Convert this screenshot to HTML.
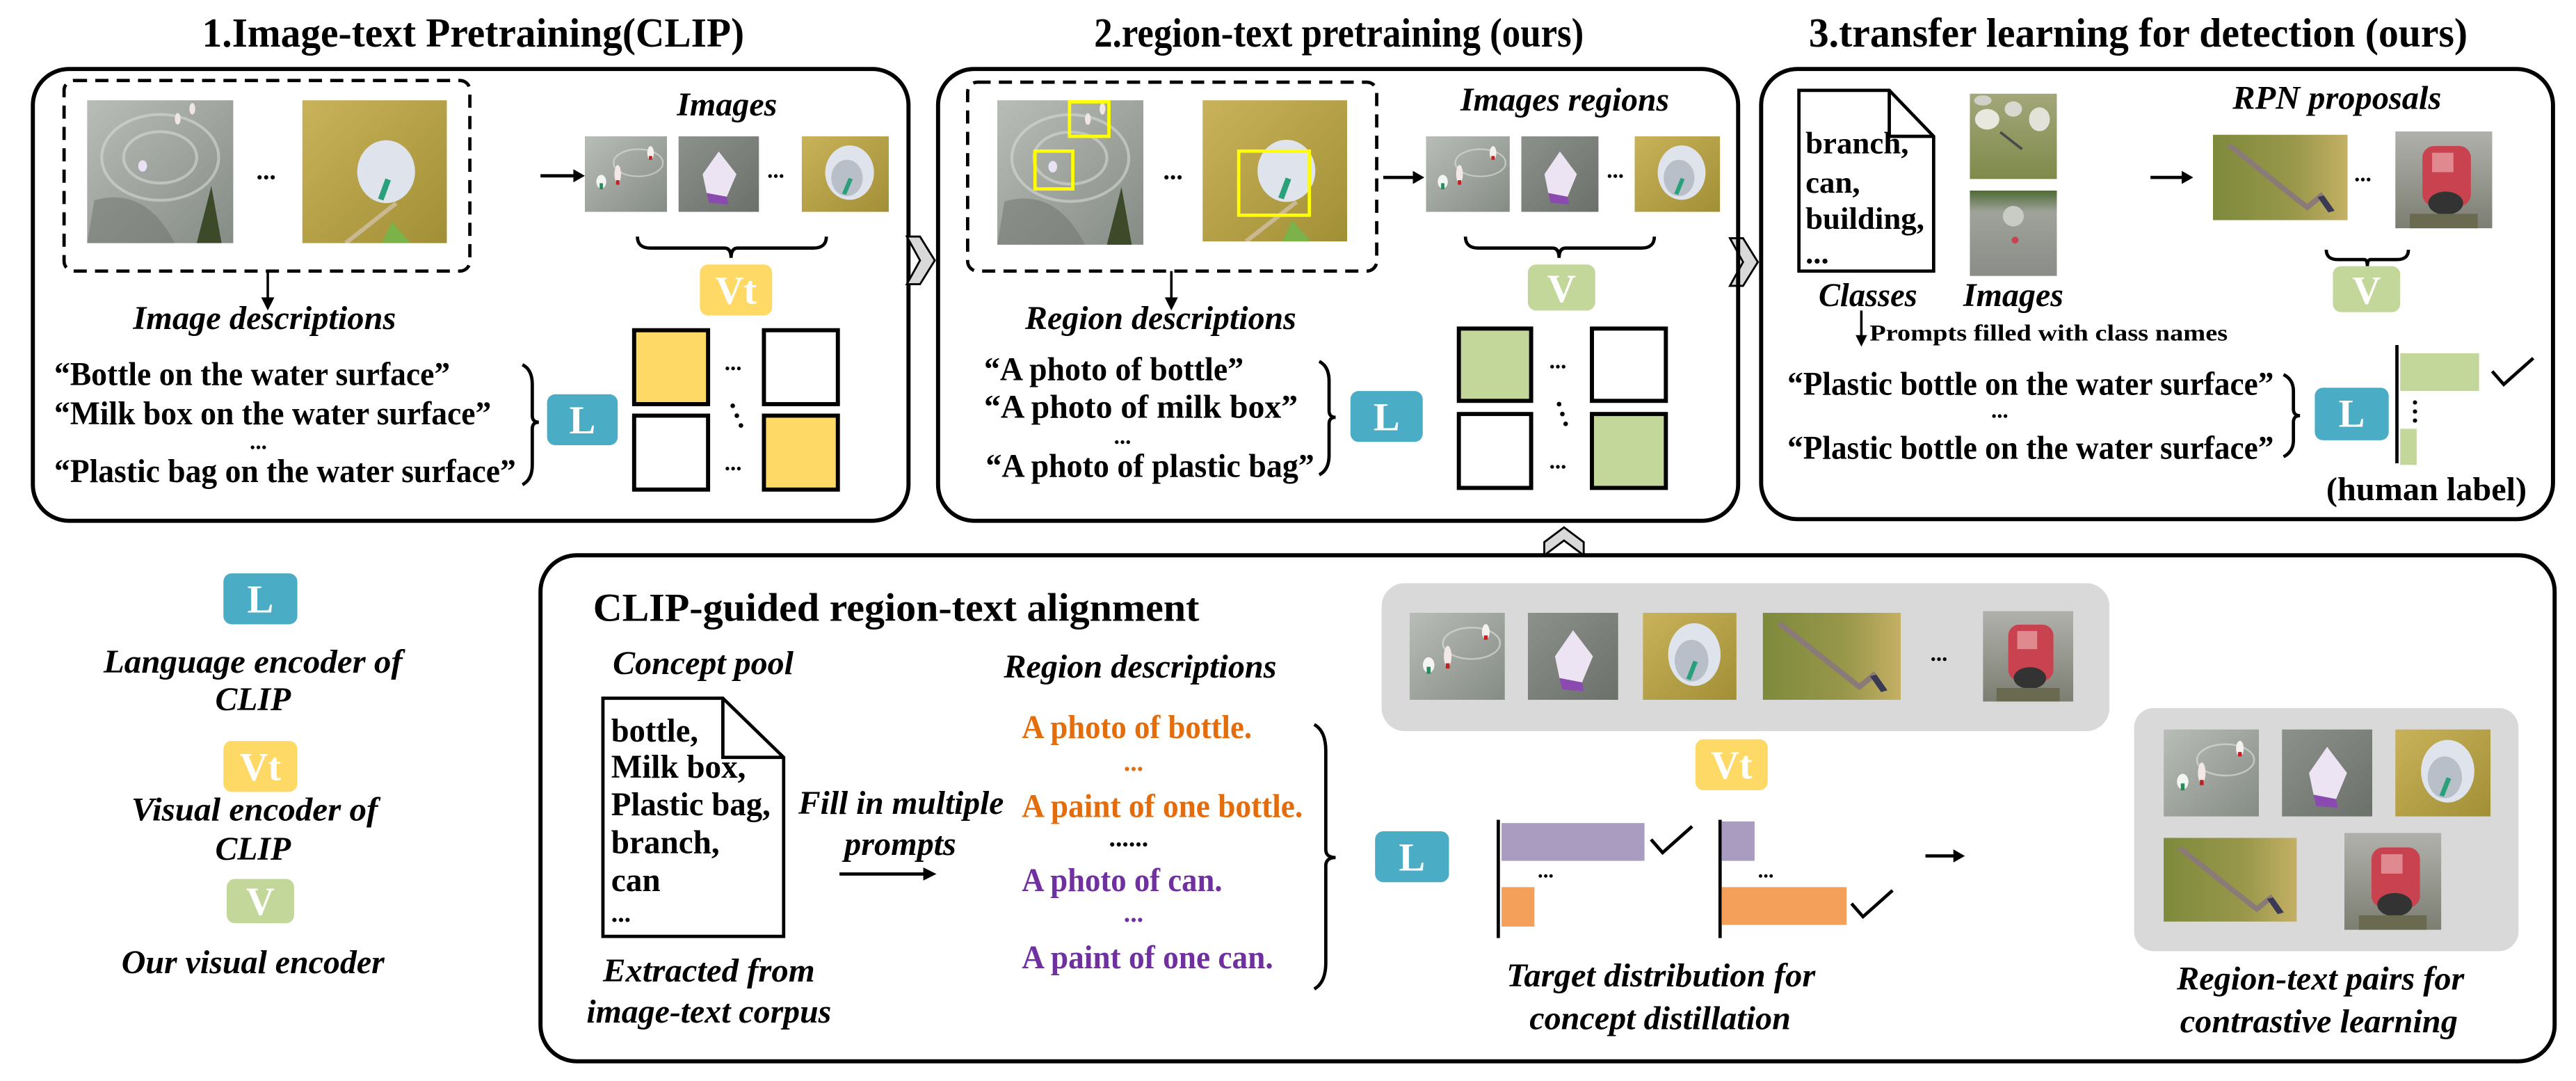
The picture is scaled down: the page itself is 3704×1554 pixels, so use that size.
<!DOCTYPE html>
<html><head><meta charset="utf-8">
<style>
html,body{margin:0;padding:0;background:#fff;}
svg{display:block;}
text{font-family:"Liberation Serif","DejaVu Serif",serif;font-weight:bold;fill:#000;dominant-baseline:central;}
.i{font-style:italic;}
.w{fill:#fff;}
.or{fill:#e46c0a;}
.pu{fill:#7030a0;}
</style></head>
<body>
<svg width="3704" height="1554" viewBox="0 0 1568 658" preserveAspectRatio="none" xmlns="http://www.w3.org/2000/svg">
<defs>
<linearGradient id="gW" x1="0" y1="0" x2="1" y2="1"><stop offset="0" stop-color="#b9bdb7"/><stop offset="1" stop-color="#858b85"/></linearGradient>
<linearGradient id="gO" x1="0" y1="0" x2="1" y2="1"><stop offset="0" stop-color="#c9b25a"/><stop offset="1" stop-color="#a18f36"/></linearGradient>
<linearGradient id="gG" x1="0" y1="0" x2="1" y2="1"><stop offset="0" stop-color="#8d918b"/><stop offset="1" stop-color="#6c706a"/></linearGradient>
<linearGradient id="gB" x1="0" y1="0" x2="1" y2="0"><stop offset="0" stop-color="#7e8a3c"/><stop offset="0.6" stop-color="#98974a"/><stop offset="1" stop-color="#c4b064"/></linearGradient>
<linearGradient id="gC" x1="0" y1="0" x2="0" y2="1"><stop offset="0" stop-color="#b0b1ab"/><stop offset="1" stop-color="#7d7e72"/></linearGradient>
<linearGradient id="gL1" x1="0" y1="0" x2="0" y2="1"><stop offset="0" stop-color="#a3a77a"/><stop offset="1" stop-color="#7f8a4a"/></linearGradient>
<linearGradient id="gL2" x1="0" y1="0" x2="0" y2="1"><stop offset="0" stop-color="#4f6a34"/><stop offset="0.25" stop-color="#9fa39a"/><stop offset="1" stop-color="#8a8c88"/></linearGradient>
<symbol id="imWater" viewBox="0 0 100 100" preserveAspectRatio="none">
<rect width="100" height="100" fill="url(#gW)"/>
<ellipse cx="65" cy="35" rx="30" ry="18" fill="none" stroke="#e0e3df" stroke-width="2" opacity=".6"/>
<ellipse cx="20" cy="60" rx="6" ry="9" fill="#f4f4f4"/><rect x="18" y="62" width="4" height="8" fill="#2a8a5a"/>
<ellipse cx="40" cy="50" rx="4" ry="12" fill="#f2e8e8"/><rect x="38" y="58" width="4" height="6" fill="#c02020"/>
<ellipse cx="80" cy="22" rx="4" ry="9" fill="#f4f0f0"/><rect x="78" y="26" width="4" height="5" fill="#c02020"/>
</symbol>
<symbol id="imBox" viewBox="0 0 100 100" preserveAspectRatio="none">
<rect width="100" height="100" fill="url(#gG)"/>
<polygon points="50,20 72,50 60,80 35,75 30,50" fill="#ece4f2"/>
<polygon points="35,75 60,80 62,90 38,88" fill="#8a4ab0"/>
</symbol>
<symbol id="imBag" viewBox="0 0 100 100" preserveAspectRatio="none">
<rect width="100" height="100" fill="url(#gO)"/>
<ellipse cx="55" cy="48" rx="28" ry="36" fill="#dfe3ec"/>
<ellipse cx="52" cy="55" rx="18" ry="24" fill="#b8bfc9"/>
<rect x="50" y="55" width="5" height="22" fill="#2aa07a" transform="rotate(20 52 66)"/>
</symbol>
<symbol id="imBranch" viewBox="0 0 100 100" preserveAspectRatio="none">
<rect width="100" height="100" fill="url(#gB)"/>
<path d="M12 12 L50 60 L70 85 L80 72 L88 90" stroke="#8a7a78" stroke-width="5" fill="none"/>
<path d="M80 72 L88 90" stroke="#3a3a55" stroke-width="5" fill="none"/>
</symbol>
<symbol id="imCan" viewBox="0 0 100 100" preserveAspectRatio="none">
<rect width="100" height="100" fill="url(#gC)"/>
<rect x="28" y="15" width="50" height="62" rx="12" fill="#c8434f"/>
<rect x="38" y="22" width="22" height="20" fill="#e08a90"/>
<ellipse cx="52" cy="74" rx="18" ry="12" fill="#333"/>
<rect x="15" y="85" width="70" height="15" fill="#6a6a50"/>
</symbol>
<symbol id="imBigWater" viewBox="0 0 100 100" preserveAspectRatio="none">
<rect width="100" height="100" fill="url(#gW)"/>
<ellipse cx="50" cy="40" rx="40" ry="30" fill="none" stroke="#d6d9d5" stroke-width="2" opacity=".6"/>
<ellipse cx="50" cy="40" rx="25" ry="18" fill="none" stroke="#d6d9d5" stroke-width="2" opacity=".6"/>
<path d="M5 70 Q40 60 60 100 L0 100Z" fill="#6d726c" opacity=".5"/>
<path d="M85 60 L92 100 L75 100 Z" fill="#3c4a2a"/>
<ellipse cx="38" cy="46" rx="3" ry="4" fill="#e9e2f2"/>
<ellipse cx="62" cy="13" rx="2" ry="4" fill="#f0e6e6"/><ellipse cx="72" cy="6" rx="2" ry="4" fill="#f0e6e6"/>
</symbol>
<symbol id="imBigOlive" viewBox="0 0 100 100" preserveAspectRatio="none">
<rect width="100" height="100" fill="url(#gO)"/>
<ellipse cx="58" cy="50" rx="20" ry="22" fill="#dfe3ec"/>
<rect x="55" y="55" width="4" height="15" fill="#2aa07a" transform="rotate(20 57 62)"/>
<path d="M30 100 L65 72" stroke="#c9b890" stroke-width="3"/>
<path d="M55 100 L62 85 L75 100Z" fill="#7bb24a"/>
</symbol>
<symbol id="imLake1" viewBox="0 0 100 100" preserveAspectRatio="none">
<rect width="100" height="100" fill="url(#gL1)"/>
<ellipse cx="20" cy="30" rx="14" ry="12" fill="#e8e8df"/><ellipse cx="50" cy="18" rx="10" ry="9" fill="#d8d8cf"/>
<ellipse cx="80" cy="30" rx="12" ry="14" fill="#e2e2d8"/><ellipse cx="15" cy="8" rx="10" ry="6" fill="#d0d2c8"/>
<path d="M35 45 L60 65" stroke="#4a4a4a" stroke-width="3"/>
</symbol>
<symbol id="imLake2" viewBox="0 0 100 100" preserveAspectRatio="none">
<rect width="100" height="100" fill="url(#gL2)"/>
<ellipse cx="50" cy="30" rx="12" ry="12" fill="#c9cbc5"/>
<circle cx="52" cy="58" r="4" fill="#c8434f"/>
</symbol>
</defs>

<!-- Titles -->
<text x="123" y="20" textLength="330" lengthAdjust="spacingAndGlyphs" font-size="25">1.Image-text Pretraining(CLIP)</text>
<text x="666" y="20" textLength="298" lengthAdjust="spacingAndGlyphs" font-size="25">2.region-text pretraining (ours)</text>
<text x="1101" y="20" textLength="401" lengthAdjust="spacingAndGlyphs" font-size="25">3.transfer learning for detection (ours)</text>

<!-- Box 1 -->
<rect x="20" y="42" width="533" height="275" rx="22" fill="none" stroke="#000" stroke-width="2.5"/>
<rect x="39" y="49" width="247" height="116" rx="6" fill="none" stroke="#000" stroke-width="2" stroke-dasharray="8,5"/>
<use href="#imBigWater" x="53" y="61" width="89" height="87"/>
<use href="#imBigOlive" x="184" y="61" width="88" height="87"/>
<text x="156" y="104" font-size="16">...</text>
<line x1="163" y1="165" x2="163" y2="182" stroke="#000" stroke-width="1.5"/><polygon points="159,181 167,181 163,189" fill="#000"/>
<text class="i" x="81" y="194" textLength="160" lengthAdjust="spacingAndGlyphs" font-size="20">Image descriptions</text>
<line x1="329" y1="107" x2="350" y2="107" stroke="#000" stroke-width="2"/><polygon points="349,103 356,107 349,111" fill="#000"/>
<text class="i" x="412" y="64" textLength="61" lengthAdjust="spacingAndGlyphs" font-size="20">Images</text>
<use href="#imWater" x="356" y="83" width="50" height="46"/>
<use href="#imBox" x="413" y="83" width="49" height="46"/>
<use href="#imBag" x="488" y="83" width="53" height="46"/>
<text x="467" y="104" font-size="14">...</text>
<path d="M388 144 q0 7 8 7 L441 151 q4 0 4 6 q0 -6 4 -6 L495 151 q8 0 8 -7" fill="none" stroke="#000" stroke-width="2"/>
<rect x="426" y="161" width="44" height="31" rx="5" fill="#ffd966"/><text class="w" x="448" y="177" text-anchor="middle" font-size="24">Vt</text>
<rect x="386" y="201" width="45" height="45" fill="#ffd966" stroke="#000" stroke-width="2.5"/>
<rect x="465" y="201" width="45" height="45" fill="#fff" stroke="#000" stroke-width="2.5"/>
<rect x="386" y="253" width="45" height="45" fill="#fff" stroke="#000" stroke-width="2.5"/>
<rect x="465" y="253" width="45" height="45" fill="#ffd966" stroke="#000" stroke-width="2.5"/>
<text x="441" y="221" font-size="14">...</text><text x="441" y="282" font-size="14">...</text>
<circle cx="446" cy="247" r="1.4"/><circle cx="448.5" cy="253" r="1.4"/><circle cx="451" cy="259" r="1.4"/>
<rect x="333" y="240" width="43" height="31" rx="5" fill="#4bacc6"/><text class="w" x="354.5" y="256" text-anchor="middle" font-size="24">L</text>
<text x="33" y="228" textLength="241" lengthAdjust="spacingAndGlyphs" font-size="20">“Bottle on the water surface”</text>
<text x="33" y="252" textLength="266" lengthAdjust="spacingAndGlyphs" font-size="20">“Milk box on the water surface”</text>
<text x="152" y="269" font-size="14">...</text>
<text x="33" y="287" textLength="281" lengthAdjust="spacingAndGlyphs" font-size="20">“Plastic bag on the water surface”</text>
<path d="M318 222 q6 3 6 12 L324 253 q0 4 4 4 q-4 0 -4 4 L324 283 q0 9 -6 12" fill="none" stroke="#000" stroke-width="2"/>

<!-- chevrons -->
<polygon points="552,144 560,144 569,158.5 560,173 552,173 560,158.5" fill="#d9d9d9" stroke="#000" stroke-width="1.2"/>
<polygon points="1053,145 1061,145 1070,159.5 1061,174 1053,174 1061,159.5" fill="#d9d9d9" stroke="#000" stroke-width="1.2"/>
<polygon points="940,338 940,330 952,321 964,330 964,338 952,329" fill="#d9d9d9" stroke="#000" stroke-width="1.2"/>

<!-- Box 2 -->
<rect x="571" y="42" width="487" height="275" rx="22" fill="none" stroke="#000" stroke-width="2.5"/>
<rect x="589" y="50" width="249" height="115" rx="6" fill="none" stroke="#000" stroke-width="2" stroke-dasharray="8,5"/>
<use href="#imBigWater" x="607" y="61" width="89" height="88"/>
<use href="#imBigOlive" x="732" y="61" width="88" height="86"/>
<rect x="651" y="62" width="24" height="21" fill="none" stroke="#ffff00" stroke-width="2"/>
<rect x="630" y="92" width="23" height="23" fill="none" stroke="#ffff00" stroke-width="2"/>
<rect x="754" y="92" width="43" height="39" fill="none" stroke="#ffff00" stroke-width="2"/>
<text x="708" y="104" font-size="16">...</text>
<line x1="713" y1="165" x2="713" y2="182" stroke="#000" stroke-width="1.5"/><polygon points="709,181 717,181 713,189" fill="#000"/>
<text class="i" x="624" y="194" textLength="165" lengthAdjust="spacingAndGlyphs" font-size="20">Region descriptions</text>
<line x1="842" y1="108" x2="861" y2="108" stroke="#000" stroke-width="2"/><polygon points="860,104 867,108 860,112" fill="#000"/>
<text class="i" x="889" y="61" textLength="127" lengthAdjust="spacingAndGlyphs" font-size="20">Images regions</text>
<use href="#imWater" x="868" y="83" width="51" height="46"/>
<use href="#imBox" x="926" y="83" width="47" height="46"/>
<use href="#imBag" x="995" y="83" width="52" height="46"/>
<text x="978" y="104" font-size="14">...</text>
<path d="M892 144 q0 7 8 7 L945 151 q4 0 4 6 q0 -6 4 -6 L999 151 q8 0 8 -7" fill="none" stroke="#000" stroke-width="2"/>
<rect x="930" y="161" width="41" height="28" rx="5" fill="#c4d79b"/><text class="w" x="950.5" y="176" text-anchor="middle" font-size="24">V</text>
<rect x="888" y="200" width="44" height="44" fill="#c4d79b" stroke="#000" stroke-width="2.5"/>
<rect x="969" y="200" width="45" height="44" fill="#fff" stroke="#000" stroke-width="2.5"/>
<rect x="888" y="252" width="44" height="45" fill="#fff" stroke="#000" stroke-width="2.5"/>
<rect x="969" y="252" width="45" height="45" fill="#c4d79b" stroke="#000" stroke-width="2.5"/>
<text x="943" y="220" font-size="14">...</text><text x="943" y="281" font-size="14">...</text>
<circle cx="949" cy="246" r="1.4"/><circle cx="951" cy="252" r="1.4"/><circle cx="953" cy="258" r="1.4"/>
<rect x="822" y="238" width="44" height="31" rx="5" fill="#4bacc6"/><text class="w" x="844" y="254" text-anchor="middle" font-size="24">L</text>
<text x="599" y="225" textLength="158" lengthAdjust="spacingAndGlyphs" font-size="20">“A photo of bottle”</text>
<text x="599" y="248" textLength="191" lengthAdjust="spacingAndGlyphs" font-size="20">“A photo of milk box”</text>
<text x="678" y="266" font-size="14">...</text>
<text x="600" y="284" textLength="200" lengthAdjust="spacingAndGlyphs" font-size="20">“A photo of plastic bag”</text>
<path d="M803 220 q6 3 6 12 L809 250 q0 4 4 4 q-4 0 -4 4 L809 277 q0 9 -6 12" fill="none" stroke="#000" stroke-width="2"/>

<!-- Box 3 -->
<rect x="1072" y="42" width="482" height="274" rx="22" fill="none" stroke="#000" stroke-width="2.5"/>
<path d="M1095 55 L1150 55 L1177 83 L1177 165 L1095 165 Z M1150 55 L1150 83 L1177 83" fill="none" stroke="#000" stroke-width="2"/>
<text x="1099" y="87" font-size="19">branch,</text>
<text x="1099" y="111" font-size="19">can,</text>
<text x="1099" y="133" font-size="19">building,</text>
<text x="1099" y="154" font-size="19">...</text>
<text class="i" x="1107" y="180" textLength="60" lengthAdjust="spacingAndGlyphs" font-size="20">Classes</text>
<text class="i" x="1195" y="180" textLength="61" lengthAdjust="spacingAndGlyphs" font-size="20">Images</text>
<use href="#imLake1" x="1199" y="57" width="53" height="52"/>
<use href="#imLake2" x="1199" y="116" width="53" height="52"/>
<line x1="1133" y1="189" x2="1133" y2="205" stroke="#000" stroke-width="1.5"/><polygon points="1129.5,204 1136.5,204 1133,211" fill="#000"/>
<text x="1138" y="203" textLength="218" lengthAdjust="spacingAndGlyphs" font-size="14">Prompts filled with class names</text>
<line x1="1309" y1="108" x2="1329" y2="108" stroke="#000" stroke-width="2"/><polygon points="1328,104 1335,108 1328,112" fill="#000"/>
<text class="i" x="1359" y="60" textLength="127" lengthAdjust="spacingAndGlyphs" font-size="20">RPN proposals</text>
<use href="#imBranch" x="1347" y="82" width="82" height="52"/>
<use href="#imCan" x="1458" y="80" width="59" height="59"/>
<text x="1433" y="106" font-size="14">...</text>
<path d="M1416 152 q0 6 7 6 L1439 158 q2 0 2 4 q0 -4 2 -4 L1459 158 q7 0 7 -6" fill="none" stroke="#000" stroke-width="2"/>
<rect x="1420" y="162" width="41" height="28" rx="5" fill="#c4d79b"/><text class="w" x="1440.5" y="177" text-anchor="middle" font-size="24">V</text>
<text x="1088" y="234" textLength="296" lengthAdjust="spacingAndGlyphs" font-size="20">“Plastic bottle on the water surface”</text>
<text x="1212" y="250" font-size="14">...</text>
<text x="1088" y="273" textLength="296" lengthAdjust="spacingAndGlyphs" font-size="20">“Plastic bottle on the water surface”</text>
<path d="M1390 228 q6 3 6 10 L1396 249 q0 4 4 4 q-4 0 -4 4 L1396 268 q0 7 -6 10" fill="none" stroke="#000" stroke-width="2"/>
<rect x="1409" y="236" width="45" height="32" rx="5" fill="#4bacc6"/><text class="w" x="1431.5" y="252" text-anchor="middle" font-size="24">L</text>
<line x1="1459" y1="210" x2="1459" y2="282" stroke="#000" stroke-width="2"/>
<rect x="1461" y="215" width="48" height="23" fill="#c4d79b"/>
<rect x="1461" y="261" width="10" height="22" fill="#c4d79b"/>
<circle cx="1470" cy="245" r="1.3"/><circle cx="1470" cy="250.5" r="1.3"/><circle cx="1470" cy="256" r="1.3"/>
<path d="M1517 226 L1524 234 L1542 218" fill="none" stroke="#000" stroke-width="2"/>
<text x="1416" y="298" textLength="122" lengthAdjust="spacingAndGlyphs" font-size="20">(human label)</text>

<!-- Legend -->
<rect x="136" y="349" width="45" height="31" rx="5" fill="#4bacc6"/><text class="w" x="158.5" y="365" text-anchor="middle" font-size="24">L</text>
<text class="i" x="63" y="403" textLength="182" lengthAdjust="spacingAndGlyphs" font-size="20">Language encoder of</text>
<text class="i" x="131" y="426" textLength="46" lengthAdjust="spacingAndGlyphs" font-size="20">CLIP</text>
<rect x="136" y="451" width="45" height="31" rx="5" fill="#ffd966"/><text class="w" x="158.5" y="467" text-anchor="middle" font-size="24">Vt</text>
<text class="i" x="80" y="493" textLength="150" lengthAdjust="spacingAndGlyphs" font-size="20">Visual encoder of</text>
<text class="i" x="131" y="517" textLength="46" lengthAdjust="spacingAndGlyphs" font-size="20">CLIP</text>
<rect x="138" y="535" width="41" height="27" rx="5" fill="#c4d79b"/><text class="w" x="158.5" y="549" text-anchor="middle" font-size="24">V</text>
<text class="i" x="74" y="586" textLength="160" lengthAdjust="spacingAndGlyphs" font-size="20">Our visual encoder</text>

<!-- Box 4 -->
<rect x="329" y="338" width="1226" height="308" rx="22" fill="none" stroke="#000" stroke-width="2.5"/>
<text x="361" y="370" textLength="369" lengthAdjust="spacingAndGlyphs" font-size="24">CLIP-guided region-text alignment</text>
<text class="i" x="373" y="404" textLength="110" lengthAdjust="spacingAndGlyphs" font-size="20">Concept pool</text>
<path d="M367 425 L440 425 L477 461 L477 570 L367 570 Z M440 425 L440 461 L477 461" fill="none" stroke="#000" stroke-width="2"/>
<text x="372" y="445" textLength="53" lengthAdjust="spacingAndGlyphs" font-size="20">bottle,</text>
<text x="372" y="467" textLength="82" lengthAdjust="spacingAndGlyphs" font-size="20">Milk box,</text>
<text x="372" y="490" textLength="97" lengthAdjust="spacingAndGlyphs" font-size="20">Plastic bag,</text>
<text x="372" y="513" textLength="66" lengthAdjust="spacingAndGlyphs" font-size="20">branch,</text>
<text x="372" y="536" font-size="20">can</text>
<text x="372" y="556" font-size="16">...</text>
<text class="i" x="367" y="591" textLength="129" lengthAdjust="spacingAndGlyphs" font-size="20">Extracted from</text>
<text class="i" x="357" y="616" textLength="149" lengthAdjust="spacingAndGlyphs" font-size="20">image-text corpus</text>
<text class="i" x="486" y="489" textLength="125" lengthAdjust="spacingAndGlyphs" font-size="20">Fill in multiple</text>
<text class="i" x="514" y="514" textLength="68" lengthAdjust="spacingAndGlyphs" font-size="20">prompts</text>
<line x1="511" y1="532" x2="563" y2="532" stroke="#000" stroke-width="2"/><polygon points="562,528 570,532 562,536" fill="#000"/>
<text class="i" x="611" y="406" textLength="166" lengthAdjust="spacingAndGlyphs" font-size="20">Region descriptions</text>
<text class="or" x="622" y="443" textLength="140" lengthAdjust="spacingAndGlyphs" font-size="20">A photo of bottle.</text>
<text class="or" x="684" y="464" font-size="16">...</text>
<text class="or" x="622" y="491" textLength="171" lengthAdjust="spacingAndGlyphs" font-size="20">A paint of one bottle.</text>
<text x="675" y="510" font-size="16">......</text>
<text class="pu" x="622" y="536" textLength="122" lengthAdjust="spacingAndGlyphs" font-size="20">A photo of can.</text>
<text class="pu" x="684" y="556" font-size="16">...</text>
<text class="pu" x="622" y="583" textLength="153" lengthAdjust="spacingAndGlyphs" font-size="20">A paint of one can.</text>
<path d="M800 441 q7 4 7 16 L807 517 q0 5 6 5 q-6 0 -6 5 L807 586 q0 12 -7 16" fill="none" stroke="#000" stroke-width="2"/>
<rect x="837" y="506" width="45" height="31" rx="5" fill="#4bacc6"/><text class="w" x="859.5" y="522" text-anchor="middle" font-size="24">L</text>

<rect x="841" y="355" width="443" height="90" rx="14" fill="#d9d9d9"/>
<use href="#imWater" x="858" y="373" width="58" height="53"/>
<use href="#imBox" x="930" y="373" width="55" height="53"/>
<use href="#imBag" x="1000" y="373" width="57" height="53"/>
<use href="#imBranch" x="1073" y="373" width="84" height="53"/>
<text x="1175" y="398" font-size="14">...</text>
<use href="#imCan" x="1207" y="372" width="55" height="55"/>
<rect x="1032" y="450" width="44" height="31" rx="5" fill="#ffd966"/><text class="w" x="1054" y="466" text-anchor="middle" font-size="24">Vt</text>

<line x1="912" y1="499" x2="912" y2="571" stroke="#000" stroke-width="2"/>
<rect x="914" y="501" width="87" height="23" fill="#aa9bc1"/>
<rect x="914" y="540" width="20" height="24" fill="#f4a05a"/>
<text x="936" y="530" font-size="13">...</text>
<path d="M1005 511 L1012 519 L1030 503" fill="none" stroke="#000" stroke-width="2"/>
<line x1="1047" y1="499" x2="1047" y2="571" stroke="#000" stroke-width="2"/>
<rect x="1048" y="500" width="20" height="24" fill="#aa9bc1"/>
<rect x="1048" y="540" width="76" height="23" fill="#f4a05a"/>
<text x="1070" y="530" font-size="13">...</text>
<path d="M1127 550 L1134 558 L1152 542" fill="none" stroke="#000" stroke-width="2"/>
<text class="i" x="917" y="594" textLength="188" lengthAdjust="spacingAndGlyphs" font-size="20">Target distribution for</text>
<text class="i" x="931" y="620" textLength="159" lengthAdjust="spacingAndGlyphs" font-size="20">concept distillation</text>
<line x1="1172" y1="521" x2="1190" y2="521" stroke="#000" stroke-width="2"/><polygon points="1189,517 1196,521 1189,525" fill="#000"/>

<rect x="1299" y="431" width="234" height="148" rx="12" fill="#d9d9d9"/>
<use href="#imWater" x="1317" y="444" width="58" height="53"/>
<use href="#imBox" x="1389" y="444" width="55" height="53"/>
<use href="#imBag" x="1458" y="444" width="58" height="53"/>
<use href="#imBranch" x="1317" y="510" width="81" height="51"/>
<use href="#imCan" x="1427" y="507" width="59" height="59"/>
<text class="i" x="1325" y="596" textLength="175" lengthAdjust="spacingAndGlyphs" font-size="20">Region-text pairs for</text>
<text class="i" x="1327" y="622" textLength="169" lengthAdjust="spacingAndGlyphs" font-size="20">contrastive learning</text>
</svg>
</body></html>
